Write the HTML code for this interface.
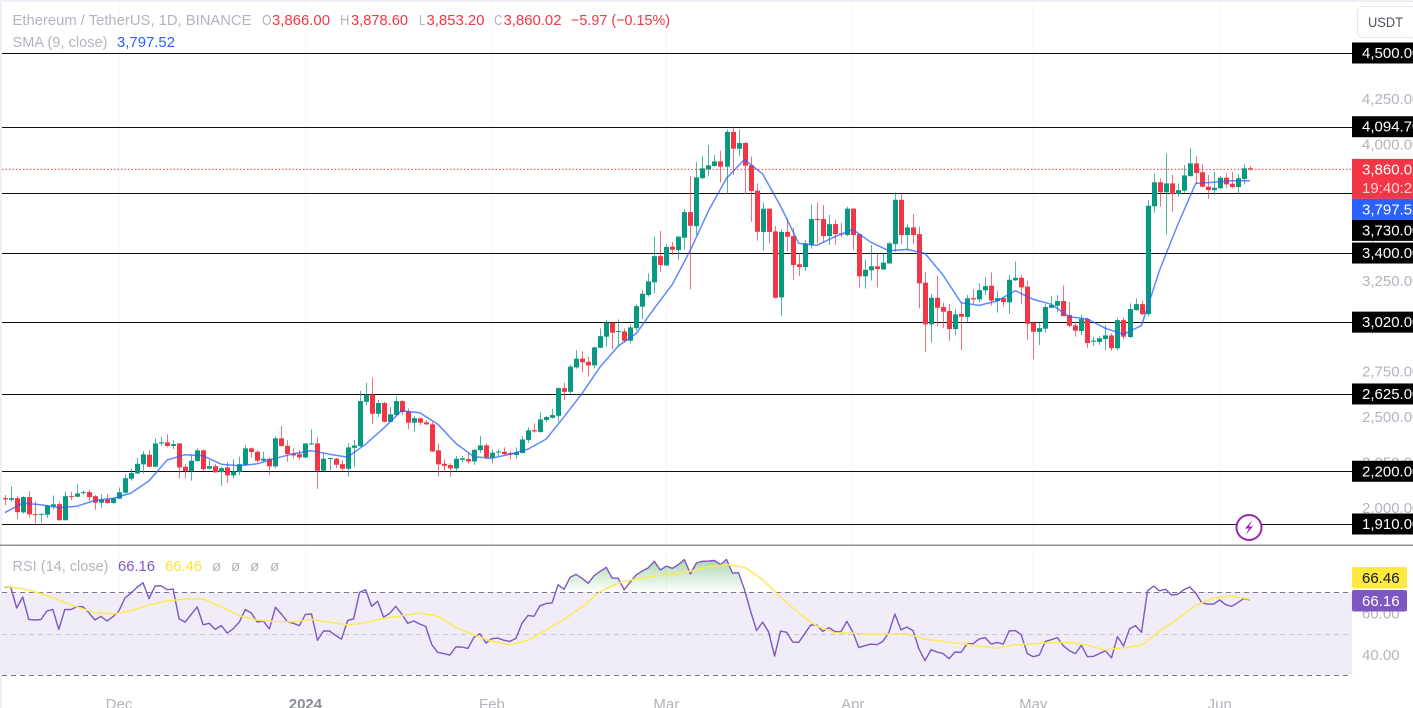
<!DOCTYPE html>
<html lang="en">
<head>
<meta charset="utf-8">
<title>Ethereum / TetherUS daily chart</title>
<style>
html,body{margin:0;padding:0;background:#fff;width:1413px;height:708px;overflow:hidden}
svg{display:block;font-family:"Liberation Sans",sans-serif;filter:blur(.3px)}
text{white-space:pre}
</style>
</head>
<body>
<svg id="chart" xmlns="http://www.w3.org/2000/svg" width="1413" height="708" viewBox="0 0 1413 708">
  <defs>
    <linearGradient id="obFill" gradientUnits="userSpaceOnUse" x1="0" y1="558" x2="0" y2="592">
      <stop offset="0" stop-color="#4caf50" stop-opacity=".5"/>
      <stop offset="1" stop-color="#4caf50" stop-opacity="0"/>
    </linearGradient>
    <clipPath id="obClip"><rect x="0" y="546" width="1352" height="46"/></clipPath>
    <clipPath id="paneClip"><rect x="2" y="2" width="1350" height="542"/></clipPath>
  </defs>

  <rect x="0" y="0" width="1413" height="708" fill="#ffffff"/>
  <g id="grid"></g>
  <rect x="0" y="0" width="1413" height="2" fill="#eef0f7"/>
  <rect x="0" y="0" width="2" height="708" fill="#eef0f7"/>

  <g id="levels"></g>
  <line id="lastLine" x1="2" x2="1352" stroke="#f23645" stroke-width="1" stroke-dasharray="1.5 2"/>
  <g id="candles" clip-path="url(#paneClip)"></g>
  <polyline id="smaLine" fill="none" stroke="#2962ff" stroke-width="1.5" stroke-opacity=".75" stroke-linejoin="round"/>

  <g font-size="15">
    <text x="12.5" y="25" fill="#b2b5be" textLength="239" lengthAdjust="spacingAndGlyphs">Ethereum / TetherUS, 1D, BINANCE</text>
    <text x="262" y="25" fill="#b2b5be" textLength="9.5" lengthAdjust="spacingAndGlyphs">O</text>
    <text x="272" y="25" fill="#f23645" textLength="58" lengthAdjust="spacingAndGlyphs">3,866.00</text>
    <text x="340" y="25" fill="#b2b5be" textLength="9.5" lengthAdjust="spacingAndGlyphs">H</text>
    <text x="351" y="25" fill="#f23645" textLength="57" lengthAdjust="spacingAndGlyphs">3,878.60</text>
    <text x="419" y="25" fill="#b2b5be" textLength="6.5" lengthAdjust="spacingAndGlyphs">L</text>
    <text x="426.5" y="25" fill="#f23645" textLength="58" lengthAdjust="spacingAndGlyphs">3,853.20</text>
    <text x="494" y="25" fill="#b2b5be" textLength="8.5" lengthAdjust="spacingAndGlyphs">C</text>
    <text x="503.5" y="25" fill="#f23645" textLength="58" lengthAdjust="spacingAndGlyphs">3,860.02</text>
    <text x="571" y="25" fill="#f23645" textLength="99" lengthAdjust="spacingAndGlyphs">−5.97 (−0.15%)</text>
    <text x="12.5" y="47" fill="#b2b5be" textLength="95" lengthAdjust="spacingAndGlyphs">SMA (9, close)</text>
    <text x="117" y="47" fill="#2962ff" textLength="58" lengthAdjust="spacingAndGlyphs">3,797.52</text>
  </g>

  <g>
    <circle cx="1249" cy="527.5" r="12.5" fill="#ffffff" stroke="#9c27b0" stroke-width="2"/>
    <path d="M1252.5 520 L1245 528.5 L1249 528.5 L1245.5 535 L1253 526.5 L1249 526.5 Z" fill="#9c27b0"/>
  </g>

  <rect x="0" y="544.5" width="1413" height="1.5" fill="#8f9097"/>

  <!-- RSI pane -->
  <rect id="rsiBand" x="2" width="1350" fill="#f0ecf8"/>
  <line id="rsiUp" x1="2" x2="1352" stroke="#787b86" stroke-dasharray="5 4"/>
  <line id="rsiMid" x1="2" x2="1352" stroke="#c9c9cf" stroke-dasharray="5 4"/>
  <line id="rsiLow" x1="2" x2="1352" stroke="#787b86" stroke-dasharray="5 4"/>
  <path id="rsiArea" fill="url(#obFill)" clip-path="url(#obClip)"/>
  <polyline id="rsiLine" fill="none" stroke="#7e57c2" stroke-width="1.4" stroke-linejoin="round"/>
  <polyline id="rsiMaLine" fill="none" stroke="#fdea57" stroke-width="1.5" stroke-linejoin="round"/>

  <g font-size="15">
    <text x="12.5" y="571" fill="#b2b5be" textLength="96" lengthAdjust="spacingAndGlyphs">RSI (14, close)</text>
    <text x="118" y="571" fill="#7e57c2" textLength="37" lengthAdjust="spacingAndGlyphs">66.16</text>
    <text x="165" y="571" fill="#fde333" textLength="37" lengthAdjust="spacingAndGlyphs">66.46</text>
    <text x="212" y="571" fill="#b2b5be">ø</text>
    <text x="231" y="571" fill="#b2b5be">ø</text>
    <text x="250" y="571" fill="#b2b5be">ø</text>
    <text x="270" y="571" fill="#b2b5be">ø</text>
  </g>

  <g id="priceAxis" font-size="15"></g>
  <g id="rsiAxis" font-size="15"></g>
  <g id="timeAxis" font-size="15"></g>
  <g id="tags" font-size="15"></g>

  <g>
    <rect x="1357.5" y="6.5" width="58" height="31" rx="5" fill="#ffffff" stroke="#e6e8ef"/>
    <text x="1368" y="27" font-size="14" fill="#50535e" textLength="35" lengthAdjust="spacingAndGlyphs">USDT</text>
  </g>
</svg>

<script>
const opens=[
2052,2043,2052,1974,2058,1964,1963,1961,2008,2019,
1931,2063,2060,2082,2085,2063,2027,2045,2025,2049,
2082,2159,2188,2238,2291,2225,2353,2359,2339,2353,
2225,2201,2256,2315,2214,2228,2195,2221,2177,2197,
2236,2326,2307,2258,2269,2227,2381,2340,2298,2294,
2276,2349,2353,2203,2267,2269,2239,2214,2329,2338,
2582,2621,2516,2575,2472,2509,2586,2529,2467,2491,
2469,2458,2315,2241,2234,2216,2263,2267,2254,2316,
2342,2276,2304,2307,2300,2289,2300,2372,2426,2416,
2482,2494,2505,2657,2637,2771,2819,2802,2782,2879,
2940,3017,2967,2969,2918,2987,3105,3169,3239,3383,
3332,3435,3416,3484,3625,3548,3812,3860,3879,3904,
3875,4066,3974,4005,3882,3743,3516,3644,3519,3156,
3516,3493,3338,3323,3446,3587,3587,3493,3559,3508,
3499,3644,3504,3272,3305,3327,3310,3343,3449,3693,
3499,3541,3504,3237,3008,3154,3103,3081,2982,3065,
3048,3152,3145,3195,3220,3136,3152,3129,3250,3264,
3215,3017,2966,2984,3099,3110,3136,3059,3002,2971,
3037,2912,2911,2927,2947,2876,3031,2938,3086,3119,
3064,3657,3789,3734,3783,3725,3743,3823,3893,3844,
3765,3746,3756,3814,3781,3763,3807,3866];
const highs=[
2069,2117,2063,2063,2091,2032,1968,2014,2067,2032,
2089,2087,2129,2093,2096,2069,2074,2074,2054,2111,
2184,2216,2274,2311,2316,2381,2390,2403,2372,2353,
2240,2289,2326,2320,2261,2239,2225,2252,2265,2280,
2344,2331,2316,2307,2276,2394,2449,2372,2326,2316,
2353,2430,2386,2298,2273,2273,2261,2353,2371,2643,
2687,2716,2591,2582,2555,2613,2591,2546,2503,2496,
2482,2472,2353,2265,2243,2284,2284,2302,2322,2393,
2353,2320,2322,2331,2313,2331,2393,2441,2463,2525,
2503,2544,2661,2687,2786,2866,2859,2830,2885,2986,
3032,3017,3035,2986,3009,3116,3196,3288,3490,3521,
3449,3460,3493,3640,3823,3899,3933,3994,3939,3963,
4080,4095,4080,4012,3930,3783,3677,3646,3548,3530,
3589,3541,3398,3471,3666,3677,3664,3609,3585,3567,
3655,3646,3504,3365,3444,3398,3398,3462,3734,3728,
3559,3614,3545,3297,3174,3277,3127,3120,3092,3127,
3169,3200,3233,3266,3294,3193,3156,3281,3354,3279,
3248,3017,3017,3119,3165,3169,3222,3130,3022,3059,
3044,2940,2943,3004,2958,3044,3044,3123,3151,3138,
3691,3838,3811,3948,3829,3783,3884,3976,3933,3889,
3829,3847,3823,3838,3847,3834,3889,3878.6];
const lows=[
2014,2032,1937,1968,1944,1904,1917,1942,1990,1928,
1928,2041,2058,2071,2038,1988,2001,2023,2021,2047,
2078,2148,2184,2188,2221,2221,2339,2331,2322,2161,
2161,2148,2252,2203,2210,2192,2120,2137,2161,2179,
2234,2276,2247,2252,2181,2216,2335,2252,2271,2262,
2271,2346,2104,2199,2206,2216,2201,2170,2225,2335,
2564,2460,2500,2469,2470,2503,2509,2430,2417,2454,
2454,2305,2170,2197,2170,2203,2250,2243,2236,2302,
2265,2243,2284,2289,2265,2269,2298,2357,2412,2412,
2470,2491,2472,2591,2621,2764,2745,2720,2766,2876,
2885,2870,2885,2907,2903,2973,3037,3160,3178,3297,
3328,3389,3361,3420,3200,3499,3805,3823,3875,3787,
3724,3829,3933,3724,3572,3468,3413,3453,3151,3055,
3411,3251,3273,3301,3424,3453,3462,3444,3444,3486,
3493,3416,3211,3204,3248,3211,3306,3339,3407,3449,
3416,3449,3096,2856,2907,2999,2987,2918,2949,2866,
3022,3119,3127,3169,3110,3072,3105,3066,3246,3118,
2922,2815,2894,2962,3096,3072,3050,2991,2940,2949,
2877,2889,2894,2866,2863,2866,2925,2933,3083,3057,
3050,3622,3655,3501,3627,3710,3732,3820,3779,3761,
3699,3721,3750,3756,3756,3725,3778,3853.2];
const closes=[
2045,2052,1975,2058,1963,1961,1966,2010,2018,1931,
2063,2060,2078,2085,2058,2027,2045,2025,2051,2084,
2162,2190,2241,2293,2225,2353,2359,2339,2349,2221,
2201,2258,2315,2212,2228,2194,2217,2177,2199,2239,
2326,2306,2258,2269,2227,2381,2339,2295,2287,2276,
2353,2353,2203,2269,2273,2236,2214,2331,2342,2586,
2621,2516,2575,2472,2513,2586,2526,2467,2492,2467,
2458,2309,2238,2230,2216,2269,2271,2254,2318,2342,
2276,2302,2309,2294,2291,2304,2375,2425,2419,2485,
2498,2509,2657,2637,2775,2819,2799,2782,2881,2943,
3017,2962,2971,2918,2991,3108,3176,3244,3383,3334,
3433,3418,3490,3625,3550,3816,3866,3882,3904,3875,
4066,3974,4005,3880,3741,3517,3644,3516,3154,3516,
3490,3334,3323,3453,3587,3583,3493,3559,3504,3503,
3644,3499,3272,3308,3327,3312,3347,3453,3693,3499,
3541,3499,3233,3008,3154,3099,3077,2982,3063,3050,
3151,3145,3196,3218,3138,3152,3130,3253,3264,3211,
3011,2967,2987,3103,3114,3136,3053,3000,2973,3037,
2905,2918,2931,2947,2877,3031,2940,3092,3119,3064,
3660,3789,3734,3783,3725,3746,3827,3893,3840,3765,
3746,3759,3814,3778,3763,3811,3866,3860.02];
// SMA(9) read every third daily bar
const smaValues=[
1972,2025,2016,2000,2008,2040,2051,2080,2148,2262,
2291,2285,2239,2230,2241,2271,2296,2313,2294,2278,
2349,2437,2533,2522,2459,2353,2280,2272,2294,2322,
2377,2500,2628,2775,2888,2958,
3096,3228,3416,3633,3811,3915,3835,3658,3453,3442,
3490,3530,3459,3413,3420,3398,3279,3127,
3112,3136,3193,3145,3118,3050,3037,2986,2953,3002,
3306,3554,3783,3789,3798,3797.52];
const smaBarsPerValue=3;
const rsiValues=[
72.4,72.4,62.3,67.6,56.8,56.5,56.7,60.8,61.6,52.0,
61.6,61.5,62.9,62.9,60.0,56.5,58.3,56.0,58.1,61.0,
67.1,69.5,72.2,74.5,66.8,72.9,73.0,71.1,71.4,57.1,
55.5,59.2,62.8,54.2,54.9,52.0,53.8,50.2,52.3,55.5,
61.5,59.9,55.5,56.0,52.2,62.6,59.4,55.7,54.9,53.8,
59.2,59.4,46.7,51.2,51.2,49.1,47.3,56.2,57.1,69.8,
71.1,63.1,65.5,57.9,59.7,63.1,59.4,54.9,56.0,54.6,
53.4,44.6,40.9,40.3,39.6,43.5,43.5,42.8,48.1,49.9,
45.4,47.5,47.8,46.7,46.2,47.7,54.9,58.7,58.3,63.4,
64.4,64.8,73.5,71.3,77.1,78.5,76.6,74.2,77.9,80.0,
81.9,76.7,76.6,71.1,74.8,78.3,80.1,81.7,84.8,80.6,
82.5,81.4,83.2,85.6,78.7,84.0,84.8,84.9,85.2,83.2,
85.7,79.1,79.3,71.1,60.7,51.4,55.5,50.7,39.1,51.2,
50.6,45.9,45.7,49.9,54.1,54.1,51.0,52.8,51.0,50.7,
55.9,50.7,43.2,44.1,44.9,44.6,46.2,50.6,59.4,51.8,
53.1,51.4,42.5,36.9,42.2,41.1,40.3,37.9,41.1,40.9,
45.1,45.1,47.3,48.0,44.9,45.7,44.9,51.2,51.4,49.4,
40.3,38.8,39.6,46.2,47.0,48.0,44.1,41.7,40.3,44.3,
38.8,39.0,40.3,41.7,38.3,48.5,44.0,52.2,53.8,50.6,
70.6,72.9,70.6,71.3,68.5,68.9,71.0,72.4,69.5,64.9,
64.1,64.2,66.2,63.9,63.1,64.9,66.8,66.16];
// RSI moving average read every third daily bar
const rsiMaValues=[
72.7,71.6,69.3,66.1,62.8,60.0,59.4,61.0,63.7,65.8,
66.6,66.6,62.9,58.6,56.5,55.7,55.7,56.8,55.4,54.1,
55.2,57.3,58.6,59.9,58.4,53.0,49.3,
46.2,44.6,46.7,51.8,56.8,62.8,70.3,74.3,76.3,77.7,
78.7,80.0,82.2,83.2,81.9,75.9,67.6,59.9,53.6,50.4,
50.2,49.6,49.7,49.9,47.2,46.2,
45.2,44.0,42.9,44.6,45.1,45.6,45.7,44.3,42.0,43.2,
44.3,51.0,57.1,63.6,67.1,68.1,66.46];
const rsiMaBarsPerValue=3;
const levelPrices=[4500,4094.7,3730,3400,3020,2625,2200,1910];
const priceTicks=[4250,4000,3750,3500,3250,3000,2750,2500,2250,2000];
const rsiTicks=[80,60,40];
const rsiBands=[70,50,30];
const timeLabels=["Dec","2024","Feb","Mar","Apr","May","Jun"];
const timeBars=[19,50,81,110,141,171,202];
const countdownText="19:40:25";

const NS="http://www.w3.org/2000/svg";
const AXIS_X=1352;
function xBar(i){return 4.7+i*6.015;}
function yPrice(p){return 53+(4500-p)*0.18185;}
function yRsi(r){return 592+(70-r)*2.075;}
function fmt(p){return p.toLocaleString("en-US",{minimumFractionDigits:2,maximumFractionDigits:2});}
function mk(tag,parent){var e=document.createElementNS(NS,tag);parent.appendChild(e);return e;}
function $(id){return document.getElementById(id);}

/* vertical grid */
timeBars.forEach(function(b){
  var g=mk("line",$("grid"));
  
  
  g.setAttribute("x1",xBar(b));g.setAttribute("x2",xBar(b));
  g.setAttribute("y1",2);g.setAttribute("y2",680);
  g.setAttribute("stroke","#f6f7fb");
});

/* horizontal levels */
levelPrices.forEach(function(p){
  var l=mk("line",$("levels"));
  
  
  var y=Math.round(yPrice(p))+0.5;
  l.setAttribute("x1",2);l.setAttribute("x2",AXIS_X);
  l.setAttribute("y1",y);l.setAttribute("y2",y);
  l.setAttribute("stroke","#111");l.setAttribute("stroke-width","1.1");
});

/* last price line */
var lastClose=closes[closes.length-1];
$("lastLine").setAttribute("y1",yPrice(lastClose));
$("lastLine").setAttribute("y2",yPrice(lastClose));

/* candles */
opens.forEach(function(o,i){
  var c=closes[i],up=c>=o,col=up?"#089981":"#f23645";
  var cx=Math.round(xBar(i));
  var w=mk("line",$("candles"));
  
  
  w.setAttribute("x1",cx+0.5);w.setAttribute("x2",cx+0.5);
  w.setAttribute("y1",yPrice(highs[i]));w.setAttribute("y2",yPrice(lows[i]));
  w.setAttribute("stroke",col);w.setAttribute("stroke-opacity","0.72");
  var b=mk("rect",$("candles"));
  
  
  var top=yPrice(Math.max(o,c)),bot=yPrice(Math.min(o,c));
  b.setAttribute("x",cx-2);b.setAttribute("width",5);
  b.setAttribute("y",top);b.setAttribute("height",Math.max(bot-top,1));
  b.setAttribute("fill",col);
});

/* SMA */
$("smaLine").setAttribute("points",smaValues.map(function(v,k){
  return xBar(k*smaBarsPerValue).toFixed(1)+","+yPrice(v).toFixed(1);
}).join(" "));

/* RSI */
$("rsiBand").setAttribute("y",yRsi(rsiBands[0]));
$("rsiBand").setAttribute("height",yRsi(rsiBands[2])-yRsi(rsiBands[0]));
[["rsiUp",0],["rsiMid",1],["rsiLow",2]].forEach(function(a){
  var y=Math.round(yRsi(rsiBands[a[1]]))+0.5;
  $(a[0]).setAttribute("y1",y);$(a[0]).setAttribute("y2",y);
});
var rsiPts=rsiValues.map(function(v,i){return xBar(i).toFixed(1)+","+yRsi(v).toFixed(1);});
$("rsiLine").setAttribute("points",rsiPts.join(" "));
$("rsiArea").setAttribute("d","M"+xBar(0)+","+yRsi(rsiBands[0])+" L"+rsiPts.join(" L")+" L"+xBar(rsiValues.length-1)+","+yRsi(rsiBands[0])+" Z");
$("rsiMaLine").setAttribute("points",rsiMaValues.map(function(v,k){
  return xBar(k*rsiMaBarsPerValue).toFixed(1)+","+yRsi(v).toFixed(1);
}).join(" "));

/* axes */
priceTicks.forEach(function(p){
  var t=mk("text",$("priceAxis"));
  
  
  t.setAttribute("x",1362);t.setAttribute("y",yPrice(p)+5.5);
  t.setAttribute("fill","#b2b5be");
  t.textContent=fmt(p);
});
rsiTicks.forEach(function(r){
  var t=mk("text",$("rsiAxis"));
  
  
  t.setAttribute("x",1362);t.setAttribute("y",yRsi(r)+5.5);
  t.setAttribute("fill","#b2b5be");
  t.textContent=r.toFixed(2);
});
timeLabels.forEach(function(s,k){
  var t=mk("text",$("timeAxis"));
  
  
  t.setAttribute("x",xBar(timeBars[k]));t.setAttribute("y",709);
  t.setAttribute("text-anchor","middle");
  t.setAttribute("fill",s==="2024"?"#8a8d98":"#b2b5be");
  if(s==="2024"){t.setAttribute("font-weight","bold");}
  t.textContent=s;
});

/* price tags stacked top-down so they never overlap */
var tagEntries=levelPrices.map(function(p){return {p:p,bg:"#000000",fg:"#ffffff",h:21};});
tagEntries.push({p:lastClose,bg:"#f23645",fg:"#ffffff",h:40,sub:countdownText});
tagEntries.push({p:smaValues[smaValues.length-1],bg:"#2962ff",fg:"#ffffff",h:21});
tagEntries.sort(function(a,b){return b.p-a.p;});
var cursor=0;
tagEntries.forEach(function(e){
  var top=Math.max(yPrice(e.p)-10.5,cursor);
  cursor=top+e.h;
  var r=mk("rect",$("tags"));
  
  
  r.setAttribute("x",AXIS_X);r.setAttribute("y",top);
  r.setAttribute("width",61);r.setAttribute("height",e.h);
  r.setAttribute("fill",e.bg);
  var t=mk("text",$("tags"));
  
  
  t.setAttribute("x",1362);t.setAttribute("y",top+15.5);
  t.setAttribute("fill",e.fg);
  t.textContent=fmt(e.p);
  if(e.sub){
    var s=mk("text",$("tags"));
    
    
    s.setAttribute("x",1362);s.setAttribute("y",top+34);
    s.setAttribute("fill","#ffd3d7");
    s.textContent=e.sub;
  }
});

/* RSI value tags */
[[rsiMaValues[rsiMaValues.length-1],"#fdea3d","#131722",567],[rsiValues[rsiValues.length-1],"#7e57c2","#ffffff",590]].forEach(function(a){
  var r=mk("rect",$("tags"));
  
  
  r.setAttribute("x",AXIS_X);r.setAttribute("y",a[3]);
  r.setAttribute("width",55);r.setAttribute("height",21.5);r.setAttribute("rx",2);
  r.setAttribute("fill",a[1]);
  var t=mk("text",$("tags"));
  
  
  t.setAttribute("x",1362);t.setAttribute("y",a[3]+16);
  t.setAttribute("fill",a[2]);
  t.textContent=a[0].toFixed(2);
});
</script>
</body>
</html>
